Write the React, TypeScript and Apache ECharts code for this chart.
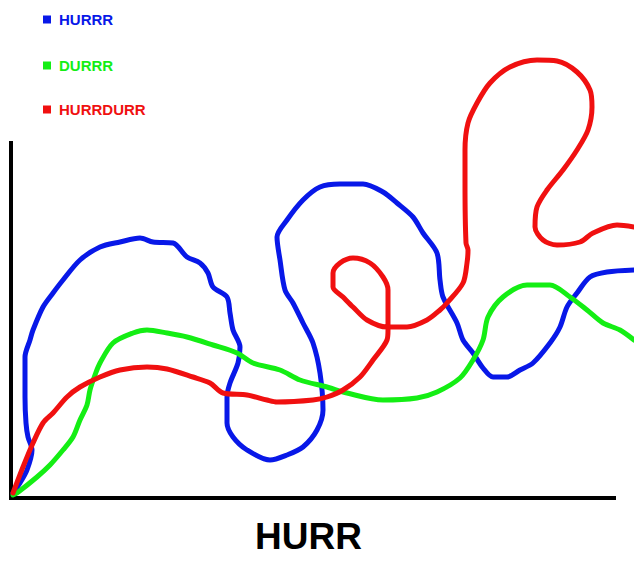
import React, { useEffect, useRef } from "react";
import * as echarts from "echarts";

// Series names and colours
const seriesNames = ["HURRR", "DURRR", "HURRDURR"];
const seriesColors = ["#0818E8", "#14EE14", "#F01010"];
const xAxisName = "HURR";

// Hand-drawn curves, as [x, y] pairs (x: 0..623, y: 0..355)
const hurrrPts: number[][] = [
  [2, 5], [9, 15], [16, 28], [21, 48], [17, 61], [15, 75], [14, 101], [14, 141], [19, 158], [22, 168],
  [32, 191], [42, 205], [52, 218], [69, 238], [89, 251], [109, 256], [129, 260], [142, 256], [162, 255],
  [176, 241], [189, 235], [197, 225], [202, 211], [216, 201], [219, 185], [222, 168], [229, 151], [227, 135],
  [219, 115], [216, 101], [216, 75], [222, 61], [236, 48], [259, 38], [276, 43], [292, 51], [306, 68],
  [312, 88], [309, 125], [302, 155], [292, 175], [282, 195], [274, 208], [269, 238], [266, 261], [276, 278],
  [292, 298], [309, 311], [329, 314], [352, 314], [372, 306], [386, 295], [402, 281], [412, 265], [426, 245],
  [429, 218], [432, 201], [446, 175], [452, 158], [462, 145], [472, 130], [482, 121], [496, 121], [509, 128],
  [522, 135], [539, 155], [549, 171], [556, 191], [566, 205], [579, 221], [596, 226], [623, 228],
];

const durrrPts: number[][] = [
  [2, 3], [6, 5], [26, 21], [39, 33], [52, 48], [62, 61], [69, 78], [76, 93], [79, 108], [84, 123],
  [89, 135], [102, 155], [122, 165], [136, 168], [156, 165], [176, 161], [202, 153], [226, 145], [242, 135],
  [269, 128], [289, 118], [316, 111], [336, 105], [372, 98], [406, 100], [426, 106], [449, 120], [462, 138],
  [472, 158], [477, 181], [492, 201], [516, 213], [539, 213], [559, 201], [576, 188], [592, 175], [609, 168],
  [623, 158],
];

const hurrdurrPts: number[][] = [
  [2, 5], [12, 31], [22, 55], [32, 75], [42, 85], [56, 101], [69, 111], [89, 121], [109, 128], [136, 131],
  [156, 129], [182, 121], [199, 115], [212, 105], [236, 103], [256, 98], [266, 96], [302, 98], [316, 101],
  [332, 108], [349, 121], [362, 138], [376, 158], [377, 168], [377, 208], [372, 221], [359, 235], [342, 240],
  [329, 235], [322, 225], [322, 211], [332, 201], [342, 191], [356, 178], [376, 171], [396, 171], [416, 178],
  [429, 188], [436, 195], [452, 215], [456, 235], [457, 248], [455, 255], [454, 315], [454, 348], [457, 375],
  [466, 395], [479, 415], [499, 431], [526, 438], [546, 437], [566, 426], [579, 408], [581, 391], [577, 368],
  [566, 348], [552, 328], [536, 308], [526, 291], [524, 271], [532, 258], [546, 253], [569, 256], [582, 265],
  [606, 273], [623, 271],
];

const seriesData = [hurrrPts, durrrPts, hurrdurrPts];
const legendTops = [12, 58, 102];

export default function App() {
  const ref = useRef<HTMLDivElement>(null);

  useEffect(() => {
    if (!ref.current) return;
    const chart = echarts.init(ref.current, undefined, { renderer: "svg" });
    const font = "'Liberation Sans', Arial, sans-serif";
    const hidden = {
      axisLine: { show: false },
      axisTick: { show: false },
      axisLabel: { show: false },
      splitLine: { show: false },
    };
    chart.setOption({
      animation: false,
      backgroundColor: "#ffffff",
      legend: seriesNames.map((name, i) => ({
        data: [name],
        orient: "vertical",
        left: 43,
        top: legendTops[i],
        padding: 0,
        icon: "rect",
        itemWidth: 8,
        itemHeight: 8,
        selectedMode: false,
        textStyle: {
          color: seriesColors[i],
          fontFamily: font,
          fontWeight: "bold",
          fontSize: 15,
          padding: [0, 0, 0, 3],
        },
      })),
      grid: [
        // visible axes (1 unit = 1 px)
        { left: 11, top: 143, width: 603, height: 355, containLabel: false },
        // the hand-drawn strokes run past the end of the x axis; same scale, wider
        { left: 11, top: 143, width: 623, height: 355, containLabel: false },
      ],
      xAxis: [
        {
          gridIndex: 0,
          type: "value",
          min: 0,
          max: 603,
          name: xAxisName,
          nameLocation: "middle",
          nameGap: 20,
          nameTextStyle: {
            color: "#000",
            fontFamily: font,
            fontWeight: "bold",
            fontSize: 37,
            padding: [0, 8, 0, 0],
          },
          axisLine: { show: true, lineStyle: { color: "#000", width: 4, cap: "square" } },
          axisTick: { show: false },
          axisLabel: { show: false },
          splitLine: { show: false },
        },
        { gridIndex: 1, type: "value", min: 0, max: 623, ...hidden },
      ],
      yAxis: [
        {
          gridIndex: 0,
          type: "value",
          min: 0,
          max: 355,
          axisLine: { show: true, lineStyle: { color: "#000", width: 4, cap: "square" } },
          axisTick: { show: false },
          axisLabel: { show: false },
          splitLine: { show: false },
        },
        { gridIndex: 1, type: "value", min: 0, max: 355, ...hidden },
      ],
      series: seriesNames.map((name, i) => ({
        name,
        type: "line",
        xAxisIndex: 1,
        yAxisIndex: 1,
        data: seriesData[i],
        smooth: 0.3,
        showSymbol: false,
        symbol: "rect",
        clip: false,
        color: seriesColors[i],
        lineStyle: { color: seriesColors[i], width: 5, join: "round", cap: "round" },
      })),
    });
    return () => chart.dispose();
  }, []);

  return (
    <div
      ref={ref}
      style={{ position: "fixed", left: 0, top: 0, width: 634, height: 571, background: "#fff" }}
    />
  );
}
